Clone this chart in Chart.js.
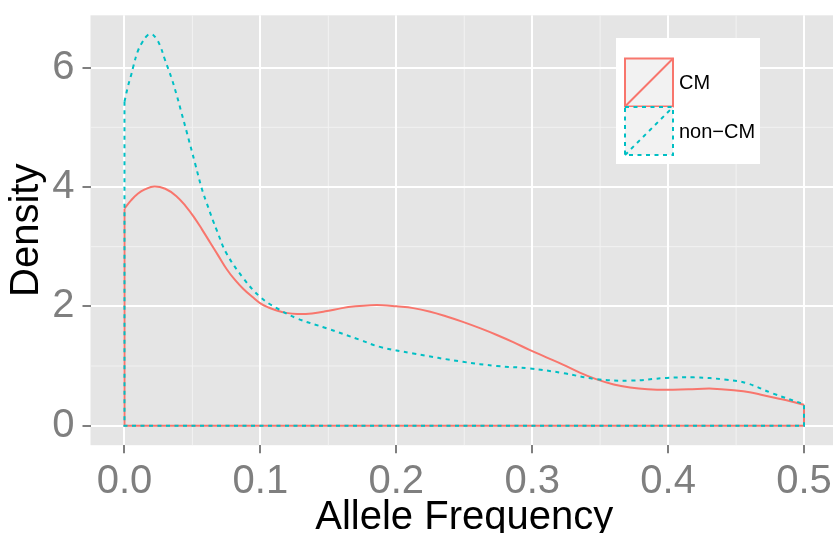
<!DOCTYPE html>
<html>
<head>
<meta charset="utf-8">
<script src="https://cdn.jsdelivr.net/npm/chart.js@4.4.0/dist/chart.umd.min.js"></script>
<style>
    html, body { margin: 0; padding: 0; background: #fff; overflow: hidden; }
    #wrap { width: 838px; height: 533px; }
</style>
</head>
<body>
<div id="wrap"><canvas id="chart" width="838" height="533"></canvas></div>
<script>
// density curves
const cmX = [0, 0.005, 0.01, 0.015, 0.022, 0.03, 0.038, 0.045, 0.051, 0.057, 0.063, 0.069, 0.075, 0.081, 0.0875, 0.094, 0.1, 0.106, 0.112, 0.119, 0.127, 0.138, 0.149, 0.16, 0.17, 0.181, 0.19, 0.2, 0.2125, 0.225, 0.237, 0.249, 0.262, 0.274, 0.286, 0.298, 0.31, 0.323, 0.335, 0.347, 0.36, 0.372, 0.385, 0.399, 0.415, 0.433, 0.45, 0.46, 0.47, 0.48, 0.49, 0.5];
const cmDensity = [3.64, 3.78, 3.89, 3.96, 4.01, 3.97, 3.85, 3.68, 3.50, 3.29, 3.07, 2.85, 2.63, 2.45, 2.29, 2.16, 2.05, 1.98, 1.93, 1.89, 1.87, 1.88, 1.92, 1.97, 2.00, 2.02, 2.02, 2.00, 1.97, 1.91, 1.83, 1.74, 1.63, 1.52, 1.40, 1.27, 1.15, 1.02, 0.89, 0.78, 0.69, 0.64, 0.61, 0.60, 0.61, 0.62, 0.59, 0.56, 0.51, 0.46, 0.41, 0.35];

const nonCmX = [0, 0.0028, 0.0046, 0.0065, 0.0097, 0.0127, 0.0168, 0.02, 0.023, 0.026, 0.0298, 0.0347, 0.0384, 0.042, 0.0458, 0.0519, 0.0568, 0.0605, 0.0654, 0.0678, 0.075, 0.0875, 0.0997, 0.112, 0.1267, 0.149, 0.173, 0.188, 0.2125, 0.249, 0.274, 0.298, 0.323, 0.347, 0.372, 0.399, 0.4185, 0.443, 0.458, 0.477, 0.5];
const nonCmDensity = [5.43, 5.71, 5.85, 6.02, 6.27, 6.41, 6.54, 6.56, 6.50, 6.38, 6.13, 5.82, 5.54, 5.24, 4.92, 4.40, 3.98, 3.73, 3.42, 3.28, 2.89, 2.47, 2.16, 1.97, 1.80, 1.63, 1.44, 1.32, 1.21, 1.07, 1.00, 0.96, 0.88, 0.78, 0.755, 0.80, 0.81, 0.77, 0.71, 0.54, 0.36];

const xTicks = [0, 0.1, 0.2, 0.3, 0.4, 0.5];
const xMinorTicks = [0.05, 0.15, 0.25, 0.35, 0.45];
const yTicks = [0, 2, 4, 6];
const yMinorTicks = [1, 3, 5];

const seriesNames = ['CM', 'non\u2212CM'];
const cmColor = '#F8766D';
const nonCmColor = '#00BFC4';
const tealDash = [4, 4.5];
const fontFamily = '"Liberation Sans", Arial, sans-serif';

function toPoints(xs, ys) {
    return xs.map((x, i) => ({ x: x, y: ys[i] }));
}

// vertical sides and baseline of the density polygon
function framePoints(xs, ys) {
    const last = xs.length - 1;
    return [
        { x: xs[0], y: ys[0] },
        { x: xs[0], y: 0 },
        { x: xs[last], y: 0 },
        { x: xs[last], y: ys[last] }
    ];
}

const panelPlugin = {
    id: 'panel',
    beforeDraw(chart) {
        const { ctx, chartArea: a, scales } = chart;
        ctx.save();
        ctx.fillStyle = '#E5E5E5';
        ctx.fillRect(a.left, a.top, a.right - a.left, a.bottom - a.top);
        ctx.strokeStyle = '#F2F2F2';
        ctx.lineWidth = 1;
        xMinorTicks.forEach(v => {
            const px = scales.x.getPixelForValue(v);
            ctx.beginPath();
            ctx.moveTo(px, a.top);
            ctx.lineTo(px, a.bottom);
            ctx.stroke();
        });
        yMinorTicks.forEach(v => {
            const py = scales.y.getPixelForValue(v);
            ctx.beginPath();
            ctx.moveTo(a.left, py);
            ctx.lineTo(a.right, py);
            ctx.stroke();
        });
        ctx.restore();
    }
};

const legendPlugin = {
    id: 'ggLegend',
    afterDraw(chart) {
        const ctx = chart.ctx;
        ctx.save();
        ctx.fillStyle = '#fff';
        ctx.fillRect(616, 38, 144, 126);

        const keys = [
            { y: 58.5, color: cmColor, dash: [] },
            { y: 107, color: nonCmColor, dash: tealDash }
        ];
        keys.forEach((k, i) => {
            ctx.fillStyle = '#F2F2F2';
            ctx.fillRect(625, k.y, 48, 48);
            ctx.strokeStyle = k.color;
            ctx.lineWidth = 2;
            ctx.setLineDash(k.dash);
            ctx.strokeRect(625, k.y, 48, 48);
            ctx.beginPath();
            ctx.moveTo(625, k.y + 48);
            ctx.lineTo(673, k.y);
            ctx.stroke();
            ctx.setLineDash([]);

            ctx.fillStyle = '#000';
            ctx.font = '20px ' + fontFamily;
            ctx.textBaseline = 'middle';
            ctx.textAlign = 'left';
            ctx.fillText(seriesNames[i], 679, k.y + 25);
        });
        ctx.restore();
    }
};

const ctx = document.getElementById('chart').getContext('2d');
new Chart(ctx, {
    type: 'line',
    data: {
        datasets: [
            {
                label: seriesNames[0],
                data: toPoints(cmX, cmDensity),
                borderColor: cmColor,
                borderWidth: 2,
                pointRadius: 0,
                tension: 0.4,
                order: 4
            },
            {
                label: seriesNames[0] + ' frame',
                data: framePoints(cmX, cmDensity),
                borderColor: cmColor,
                borderWidth: 2,
                pointRadius: 0,
                tension: 0,
                order: 3
            },
            {
                label: seriesNames[1],
                data: toPoints(nonCmX, nonCmDensity),
                borderColor: nonCmColor,
                borderWidth: 2,
                borderDash: tealDash,
                pointRadius: 0,
                tension: 0.4,
                order: 2
            },
            {
                label: seriesNames[1] + ' frame',
                data: framePoints(nonCmX, nonCmDensity),
                borderColor: nonCmColor,
                borderWidth: 2,
                borderDash: tealDash,
                pointRadius: 0,
                tension: 0,
                order: 1
            }
        ]
    },
    options: {
        responsive: false,
        animation: false,
        events: [],
        layout: { padding: { top: 15.3, left: 0, right: 0, bottom: 0 } },
        plugins: {
            legend: { display: false },
            tooltip: { enabled: false }
        },
        scales: {
            x: {
                type: 'linear',
                min: -0.025,
                max: 0.525,
                afterBuildTicks: scale => { scale.ticks = xTicks.map(v => ({ value: v })); },
                afterFit: scale => {
                    scale.height = 87.8;
                    scale.paddingLeft = 0;
                    scale.paddingRight = 0;
                },
                border: { display: false },
                grid: {
                    color: '#FFFFFF',
                    lineWidth: 2,
                    tickColor: '#7F7F7F',
                    tickLength: 8,
                    tickWidth: 2
                },
                ticks: {
                    color: '#7F7F7F',
                    font: { size: 40, family: fontFamily },
                    padding: 5,
                    maxRotation: 0,
                    autoSkip: false,
                    callback: v => v.toFixed(1)
                },
                title: {
                    display: true,
                    text: 'Allele Frequency',
                    color: '#000',
                    font: { size: 40, family: fontFamily, lineHeight: 1 },
                    padding: { top: 0, bottom: -5 }
                }
            },
            y: {
                type: 'linear',
                min: -0.3275,
                max: 6.8775,
                afterBuildTicks: scale => { scale.ticks = yTicks.map(v => ({ value: v })); },
                afterFit: scale => {
                    scale.width = 90.5;
                    scale.paddingTop = 0;
                    scale.paddingBottom = 0;
                },
                border: { display: false },
                grid: {
                    color: '#FFFFFF',
                    lineWidth: 2,
                    tickColor: '#7F7F7F',
                    tickLength: 8,
                    tickWidth: 2
                },
                ticks: {
                    color: '#7F7F7F',
                    font: { size: 40, family: fontFamily },
                    padding: 8,
                    autoSkip: false,
                    callback: v => String(v)
                },
                title: {
                    display: true,
                    text: 'Density',
                    color: '#000',
                    font: { size: 40, family: fontFamily, lineHeight: 1 },
                    padding: { top: 7, bottom: 0 }
                }
            }
        }
    },
    plugins: [panelPlugin, legendPlugin]
});
</script>
</body>
</html>
